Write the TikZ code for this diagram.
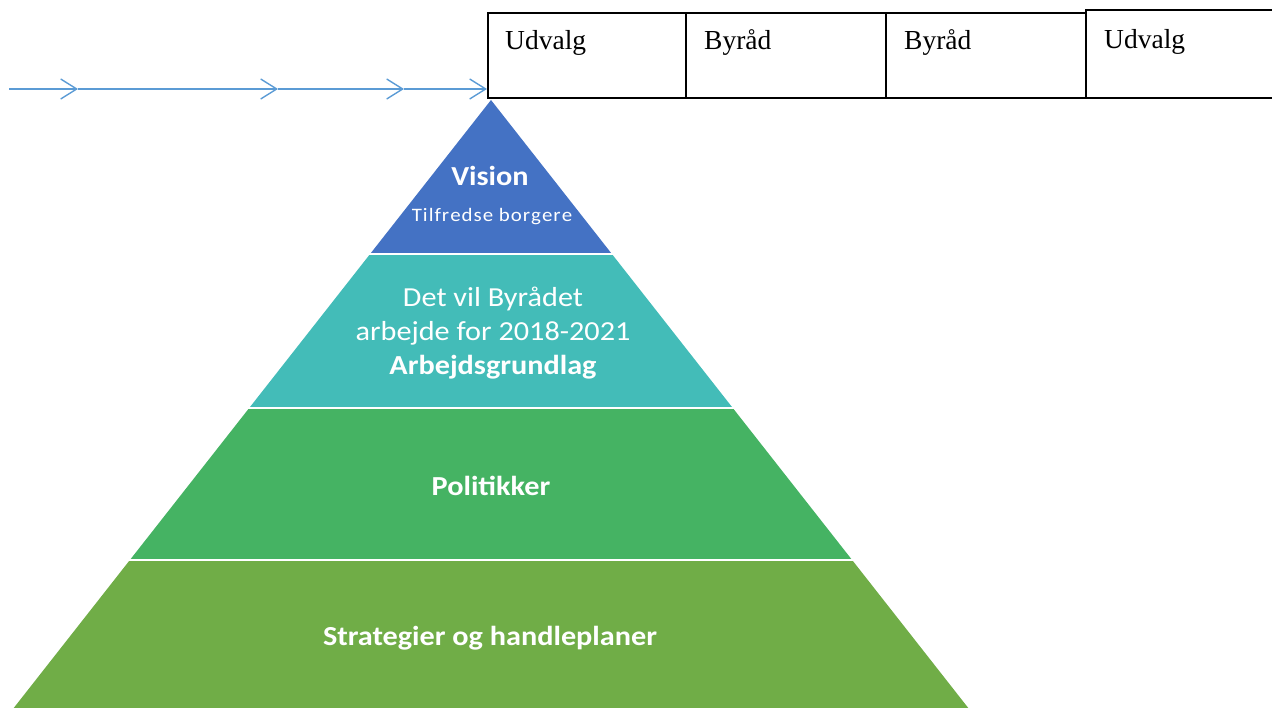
\documentclass[tikz,border=0pt]{standalone}
\usepackage{fontspec}
\setmainfont{Carlito}[FakeStretch=1.1]
\newfontfamily\boxfont{Liberation Serif}
\usetikzlibrary{arrows.meta}
\definecolor{arrowblue}{HTML}{5B9BD5}
\definecolor{lvlA}{HTML}{4472C4}
\definecolor{lvlB}{HTML}{43BCB8}
\definecolor{lvlC}{HTML}{45B363}
\definecolor{lvlD}{HTML}{70AD47}
\begin{document}
\begin{tikzpicture}[x=1pt,y=-1pt,
  flowline/.style={arrowblue,line width=1.4pt,-{Straight Barb[length=16pt,width=20pt,line width=1.4pt]}},
  termbox/.style={draw=black,line width=1.3pt,fill=white},
  termtext/.style={font=\boxfont\fontsize{27.5}{30}\selectfont,anchor=base west,inner sep=0pt},
  pyrtext/.style={text=white,align=center,inner sep=0pt},
  gap/.style={white,line width=2.5pt}]
\useasboundingbox (0,0) rectangle (1272,708);
% pyramid layers
\def\ax{491}\def\ay{100}\def\sl{0.785}
\fill[lvlA] (\ax,\ay) -- ({\ax+\sl*(254-\ay)},254) -- ({\ax-\sl*(254-\ay)},254) -- cycle;
\fill[lvlB] ({\ax-\sl*(254-\ay)},254) -- ({\ax+\sl*(254-\ay)},254) -- ({\ax+\sl*(408-\ay)},408) -- ({\ax-\sl*(408-\ay)},408) -- cycle;
\fill[lvlC] ({\ax-\sl*(408-\ay)},408) -- ({\ax+\sl*(408-\ay)},408) -- ({\ax+\sl*(560-\ay)},560) -- ({\ax-\sl*(560-\ay)},560) -- cycle;
\fill[lvlD] ({\ax-\sl*(560-\ay)},560) -- ({\ax+\sl*(560-\ay)},560) -- ({\ax+\sl*(712-\ay)},712) -- ({\ax-\sl*(712-\ay)},712) -- cycle;
\draw[gap] ({\ax-\sl*(254-\ay)-3},254) -- ({\ax+\sl*(254-\ay)+3},254);
\draw[gap] ({\ax-\sl*(408-\ay)-3},408) -- ({\ax+\sl*(408-\ay)+3},408);
\draw[gap] ({\ax-\sl*(560-\ay)-3},560) -- ({\ax+\sl*(560-\ay)+3},560);
% pyramid texts
\node[pyrtext,font=\bfseries\fontsize{27.5}{30}\selectfont] (vision) at (490,176) {Vision};
\node[pyrtext,font=\fontsize{19}{22}\selectfont] (borgere) at (492,217) {T\kern1pt i\kern1pt l\kern1pt f\kern1pt r\kern1pt e\kern1pt d\kern1pt s\kern1pt e\kern1pt\ b\kern1pt o\kern1pt r\kern1pt g\kern1pt e\kern1pt r\kern1pt e};
\node[pyrtext,font=\fontsize{27.5}{34}\selectfont] (byraad) at (493,333) {Det vil Byrådet\\arbejde for 2018-2021\\\textbf{Arbejdsgrundlag}};
\node[pyrtext,font=\bfseries\fontsize{27.5}{30}\selectfont] (politik) at (491,486) {Politikker};
\node[pyrtext,font=\bfseries\fontsize{27.5}{30}\selectfont] (strategi) at (490,638) {Strategier og handleplaner};
% boxes
\draw[termbox] (488,13) rectangle (686,98);
\draw[termbox] (686,13) rectangle (886,98);
\draw[termbox] (886,13) rectangle (1086,98);
\draw[termbox] (1086,10) rectangle (1280,98);
\node[termtext] (u1) at (505,50) {Udvalg};
\node[termtext] (b1) at (704,50) {Byråd};
\node[termtext] (b2) at (904,50) {Byråd};
\node[termtext] (u2) at (1104,49) {Udvalg};
% arrow line
\coordinate (p0) at (9,89);
\coordinate (p1) at (78,89);
\coordinate (p2) at (278,89);
\coordinate (p3) at (404,89);
\coordinate (p4) at (487,89);
\draw[flowline] (p0) -- (p1);
\draw[flowline] (p1) -- (p2);
\draw[flowline] (p2) -- (p3);
\draw[flowline] (p3) -- (p4);
\end{tikzpicture}
\end{document}
